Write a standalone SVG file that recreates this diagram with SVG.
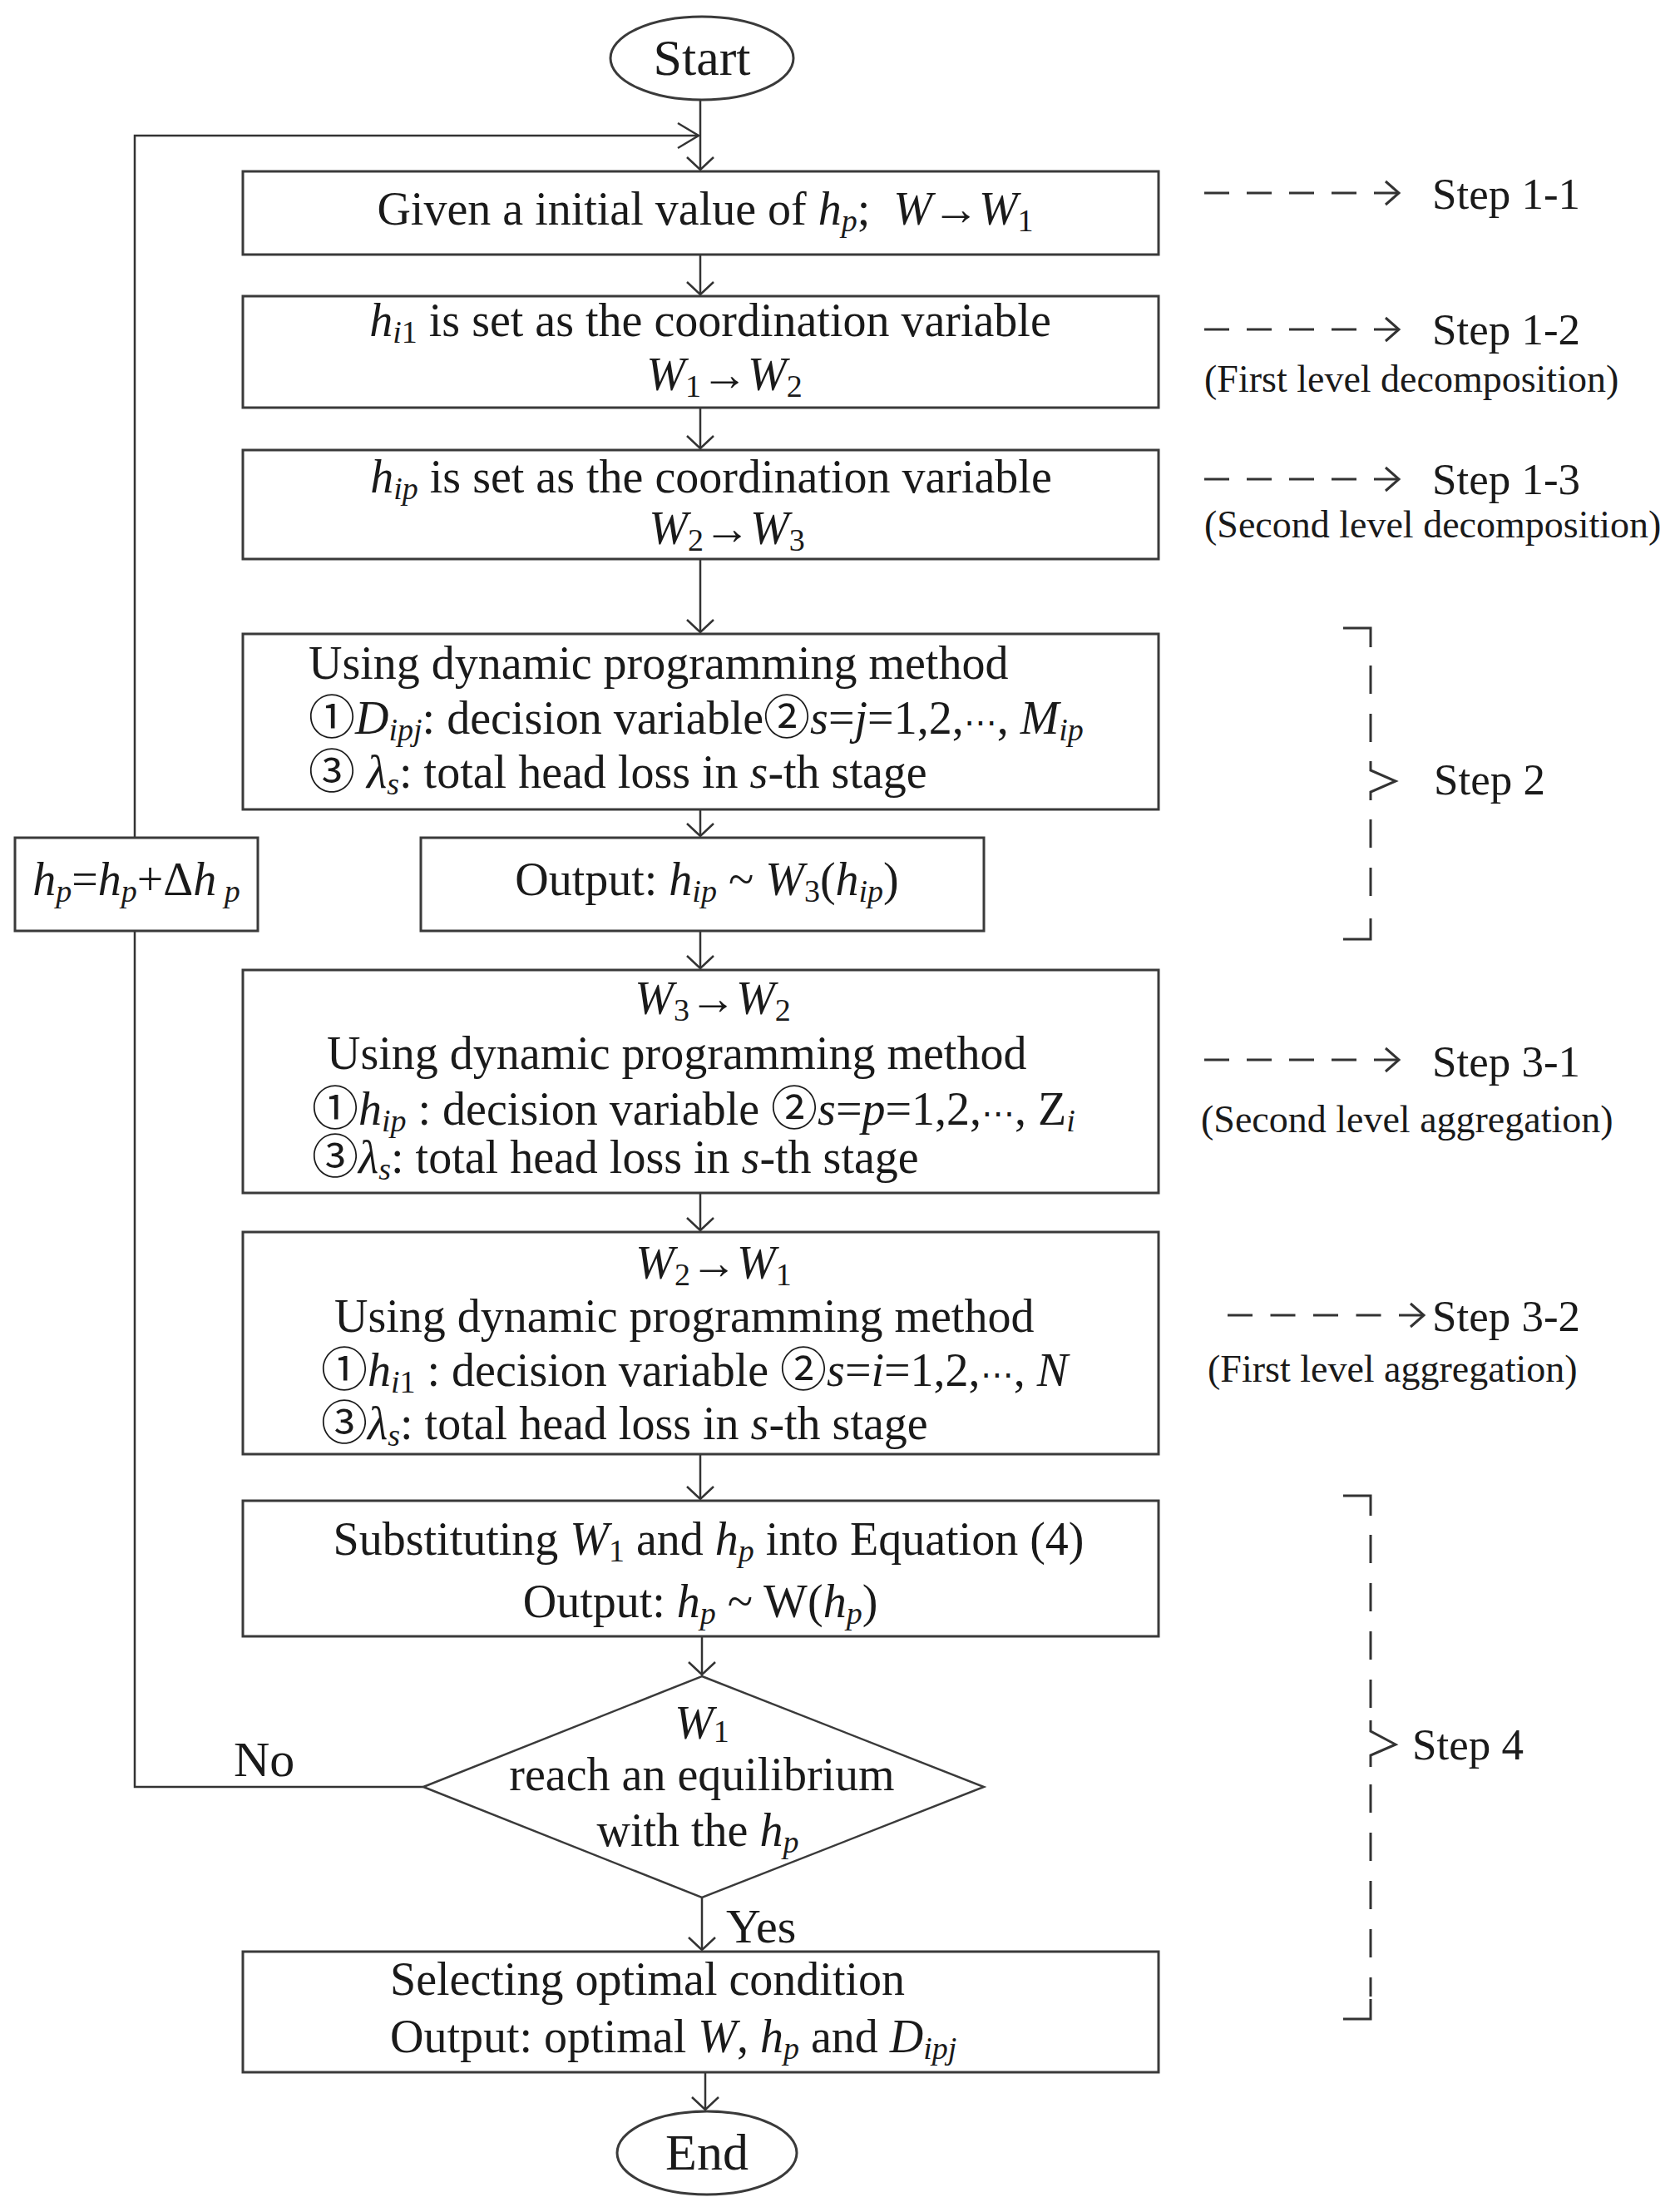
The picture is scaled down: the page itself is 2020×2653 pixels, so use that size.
<svg xmlns="http://www.w3.org/2000/svg" width="2020" height="2653" viewBox="0 0 2020 2653">
<style>
.box{fill:#fff;stroke:#3a3a3a;stroke-width:3}
.ln{fill:none;stroke:#333;stroke-width:2.5}
.dl{fill:none;stroke:#333;stroke-width:3}
.t{font-family:"Liberation Serif","Times New Roman","DejaVu Serif","Noto Sans CJK SC",serif;font-size:56px;fill:#1a1a1a}
.m{text-anchor:middle}
.i{font-style:italic}
.s{font-size:38px}
.lab{font-size:53px}
.sm{font-size:46px}
.big{font-size:62px}
.dots{font-family:"DejaVu Sans","Noto Sans CJK SC",sans-serif;font-size:40px}
</style>
<defs>
<marker id="ad" markerUnits="userSpaceOnUse" markerWidth="40" markerHeight="40" viewBox="-20 -20 40 40" refX="0" refY="0" orient="auto" overflow="visible">
<path d="M-15,-16 L0,0 L-15,16" fill="none" stroke="#333" stroke-width="2.5"/>
</marker>
<marker id="al" markerUnits="userSpaceOnUse" markerWidth="60" markerHeight="60" viewBox="-30 -30 60 60" refX="0" refY="0" orient="auto" overflow="visible">
<path d="M-25,-15 L0,0 L-25,15" fill="none" stroke="#333" stroke-width="2.5"/>
</marker>
<marker id="ar" markerUnits="userSpaceOnUse" markerWidth="40" markerHeight="40" viewBox="-20 -20 40 40" refX="0" refY="0" orient="auto" overflow="visible">
<path d="M-16,-14 L0,0 L-16,14" fill="none" stroke="#333" stroke-width="3"/>
</marker>
</defs>
<rect width="2020" height="2653" fill="#fff"/>

<g id="connectors">
<path class="ln" d="M842,120 V204" marker-end="url(#ad)"/>
<path class="ln" d="M162,1007 V163 H840" marker-end="url(#al)"/>
<path class="ln" d="M842,306 V354" marker-end="url(#ad)"/>
<path class="ln" d="M842,490 V539" marker-end="url(#ad)"/>
<path class="ln" d="M842,672 V760" marker-end="url(#ad)"/>
<path class="ln" d="M842,973 V1005" marker-end="url(#ad)"/>
<path class="ln" d="M842,1119 V1164" marker-end="url(#ad)"/>
<path class="ln" d="M842,1434 V1479" marker-end="url(#ad)"/>
<path class="ln" d="M842,1748 V1802" marker-end="url(#ad)"/>
<path class="ln" d="M844,1967 V2013" marker-end="url(#ad)"/>
<path class="ln" d="M844,2281 V2344" marker-end="url(#ad)"/>
<path class="ln" d="M848,2491 V2536" marker-end="url(#ad)"/>
<path class="ln" d="M509,2148 H162 V1119"/>
<text class="t" x="281" y="2135" style="font-size:60px">No</text>
<text class="t" x="873" y="2335" style="font-size:58px">Yes</text>
</g>

<g id="start">
<ellipse cx="844" cy="70" rx="110" ry="50" class="box"/>
<text class="t m big" x="844" y="90">Start</text>
</g>

<g id="n1">
<rect class="box" x="292" y="206" width="1101" height="100"/>
<text class="t m" x="848" y="270">Given a initial value of <tspan class="i">h</tspan><tspan class="s i" dy="8">p</tspan><tspan dy="-8">; &#160;</tspan><tspan class="i">W</tspan>→<tspan class="i">W</tspan><tspan class="s" dy="8">1</tspan></text>
</g>

<g id="n2">
<rect class="box" x="292" y="356" width="1101" height="134"/>
<text class="t m" x="854" y="404"><tspan class="i">h</tspan><tspan class="s i" dy="8">i</tspan><tspan class="s">1</tspan><tspan dy="-8"> is set as the coordination variable</tspan></text>
<text class="t m" x="871" y="469"><tspan class="i">W</tspan><tspan class="s" dy="8">1</tspan><tspan dy="-8">→</tspan><tspan class="i">W</tspan><tspan class="s" dy="8">2</tspan></text>
</g>

<g id="n3">
<rect class="box" x="292" y="541" width="1101" height="131"/>
<text class="t m" x="855" y="592"><tspan class="i">h</tspan><tspan class="s i" dy="8">ip</tspan><tspan dy="-8"> is set as the coordination variable</tspan></text>
<text class="t m" x="874" y="654"><tspan class="i">W</tspan><tspan class="s" dy="8">2</tspan><tspan dy="-8">→</tspan><tspan class="i">W</tspan><tspan class="s" dy="8">3</tspan></text>
</g>

<g id="n4">
<rect class="box" x="292" y="762" width="1101" height="211"/>
<text class="t" x="371" y="816">Using dynamic programming method</text>
<text class="t" x="371" y="882">①<tspan class="i">D</tspan><tspan class="s i" dy="8">ipj</tspan><tspan dy="-8">: decision variable②</tspan><tspan class="i">s</tspan>=<tspan class="i">j</tspan>=1,2,<tspan class="dots">⋯</tspan>, <tspan class="i">M</tspan><tspan class="s i" dy="8">ip</tspan></text>
<text class="t" x="371" y="947">③ <tspan class="i">λ</tspan><tspan class="s i" dy="8">s</tspan><tspan dy="-8">: total head loss in </tspan><tspan class="i">s</tspan>-th stage</text>
</g>

<g id="n_out">
<rect class="box" x="506" y="1007" width="677" height="112"/>
<text class="t m" x="850" y="1076">Output: <tspan class="i">h</tspan><tspan class="s i" dy="8">ip</tspan><tspan dy="-8"> ~ </tspan><tspan class="i">W</tspan><tspan class="s" dy="8">3</tspan><tspan dy="-8">(</tspan><tspan class="i">h</tspan><tspan class="s i" dy="8">ip</tspan><tspan dy="-8">)</tspan></text>
</g>

<g id="n_hp">
<rect class="box" x="18" y="1007" width="292" height="112"/>
<text class="t m" x="164" y="1076"><tspan class="i">h</tspan><tspan class="s i" dy="8">p</tspan><tspan dy="-8">=</tspan><tspan class="i">h</tspan><tspan class="s i" dy="8">p</tspan><tspan dy="-8">+Δ</tspan><tspan class="i">h</tspan><tspan class="s i" dy="8"> p</tspan></text>
</g>

<g id="n5">
<rect class="box" x="292" y="1166" width="1101" height="268"/>
<text class="t m" x="857" y="1219"><tspan class="i">W</tspan><tspan class="s" dy="8">3</tspan><tspan dy="-8">→</tspan><tspan class="i">W</tspan><tspan class="s" dy="8">2</tspan></text>
<text class="t" x="393" y="1285">Using dynamic programming method</text>
<text class="t" x="375" y="1352">①<tspan class="i">h</tspan><tspan class="s i" dy="8">ip</tspan><tspan dy="-8"> : decision variable ②</tspan><tspan class="i">s</tspan>=<tspan class="i">p</tspan>=1,2,<tspan class="dots">⋯</tspan>, Z<tspan class="s i" dy="8">i</tspan></text>
<text class="t" x="375" y="1410">③<tspan class="i">λ</tspan><tspan class="s i" dy="8">s</tspan><tspan dy="-8">: total head loss in </tspan><tspan class="i">s</tspan>-th stage</text>
</g>

<g id="n6">
<rect class="box" x="292" y="1481" width="1101" height="267"/>
<text class="t m" x="858" y="1537"><tspan class="i">W</tspan><tspan class="s" dy="8">2</tspan><tspan dy="-8">→</tspan><tspan class="i">W</tspan><tspan class="s" dy="8">1</tspan></text>
<text class="t" x="402" y="1601">Using dynamic programming method</text>
<text class="t" x="386" y="1666">①<tspan class="i">h</tspan><tspan class="s i" dy="8">i</tspan><tspan class="s">1</tspan><tspan dy="-8"> : decision variable ②</tspan><tspan class="i">s</tspan>=<tspan class="i">i</tspan>=1,2,<tspan class="dots">⋯</tspan>, <tspan class="i">N</tspan></text>
<text class="t" x="386" y="1730">③<tspan class="i">λ</tspan><tspan class="s i" dy="8">s</tspan><tspan dy="-8">: total head loss in </tspan><tspan class="i">s</tspan>-th stage</text>
</g>

<g id="n7">
<rect class="box" x="292" y="1804" width="1101" height="163"/>
<text class="t m" x="852" y="1869">Substituting <tspan class="i">W</tspan><tspan class="s" dy="8">1</tspan><tspan dy="-8"> and </tspan><tspan class="i">h</tspan><tspan class="s i" dy="8">p</tspan><tspan dy="-8"> into Equation (4)</tspan></text>
<text class="t m" x="842" y="1944">Output: <tspan class="i">h</tspan><tspan class="s i" dy="8">p</tspan><tspan dy="-8"> ~ W(</tspan><tspan class="i">h</tspan><tspan class="s i" dy="8">p</tspan><tspan dy="-8">)</tspan></text>
</g>

<g id="n_dec">
<polygon class="box" style="stroke-width:2.5" points="844,2015 1183,2148 844,2281 509,2148"/>
<text class="t m" x="844" y="2090"><tspan class="i">W</tspan><tspan class="s" dy="4">1</tspan></text>
<text class="t m" x="844" y="2152">reach an equilibrium</text>
<text class="t m" x="839" y="2219">with the <tspan class="i">h</tspan><tspan class="s i" dy="8">p</tspan></text>
</g>

<g id="n8">
<rect class="box" x="292" y="2346" width="1101" height="145"/>
<text class="t" x="469" y="2398">Selecting optimal condition</text>
<text class="t" x="469" y="2467">Output: optimal <tspan class="i">W</tspan>, <tspan class="i">h</tspan><tspan class="s i" dy="8">p</tspan><tspan dy="-8"> and </tspan><tspan class="i">D</tspan><tspan class="s i" dy="8">ipj</tspan></text>
</g>

<g id="end">
<ellipse cx="850" cy="2588" rx="108" ry="50" class="box"/>
<text class="t m big" x="850" y="2608">End</text>
</g>

<g id="step11">
<path class="dl" d="M1448,232 H1682" stroke-dasharray="30 21" marker-end="url(#ar)"/>
<text class="t lab" x="1722" y="251">Step 1-1</text>
</g>
<g id="step12">
<path class="dl" d="M1448,396 H1682" stroke-dasharray="30 21" marker-end="url(#ar)"/>
<text class="t lab" x="1722" y="414">Step 1-2</text>
<text class="t sm" x="1448" y="471">(First level decomposition)</text>
</g>
<g id="step13">
<path class="dl" d="M1448,576 H1682" stroke-dasharray="30 21" marker-end="url(#ar)"/>
<text class="t lab" x="1722" y="594">Step 1-3</text>
<text class="t sm" x="1448" y="646">(Second level decomposition)</text>
</g>
<g id="step2">
<path class="dl" d="M1615,755 H1648 V778"/>
<path class="dl" d="M1648,800 V912" stroke-dasharray="34 24"/>
<path class="dl" d="M1648,915 V926 L1678,939 L1648,952 V962"/>
<path class="dl" d="M1648,985 V1100" stroke-dasharray="34 24"/>
<path class="dl" d="M1648,1104 V1129 H1615"/>
<text class="t lab" x="1724" y="955">Step 2</text>
</g>
<g id="step31">
<path class="dl" d="M1448,1274 H1682" stroke-dasharray="30 21" marker-end="url(#ar)"/>
<text class="t lab" x="1722" y="1294">Step 3-1</text>
<text class="t sm" x="1444" y="1361">(Second level aggregation)</text>
</g>
<g id="step32">
<path class="dl" d="M1476,1581 H1712" stroke-dasharray="30 21.5" marker-end="url(#ar)"/>
<text class="t lab" x="1722" y="1600">Step 3-2</text>
<text class="t sm" x="1452" y="1661">(First level aggregation)</text>
</g>
<g id="step4">
<path class="dl" d="M1615,1798 H1648 V1822"/>
<path class="dl" d="M1648,1845 V2070" stroke-dasharray="34 24"/>
<path class="dl" d="M1648,2068 V2081 L1678,2097 L1648,2110 V2124"/>
<path class="dl" d="M1648,2145 V2400" stroke-dasharray="34 24"/>
<path class="dl" d="M1648,2403 V2427 H1615"/>
<text class="t lab" x="1698" y="2115">Step 4</text>
</g>
</svg>
